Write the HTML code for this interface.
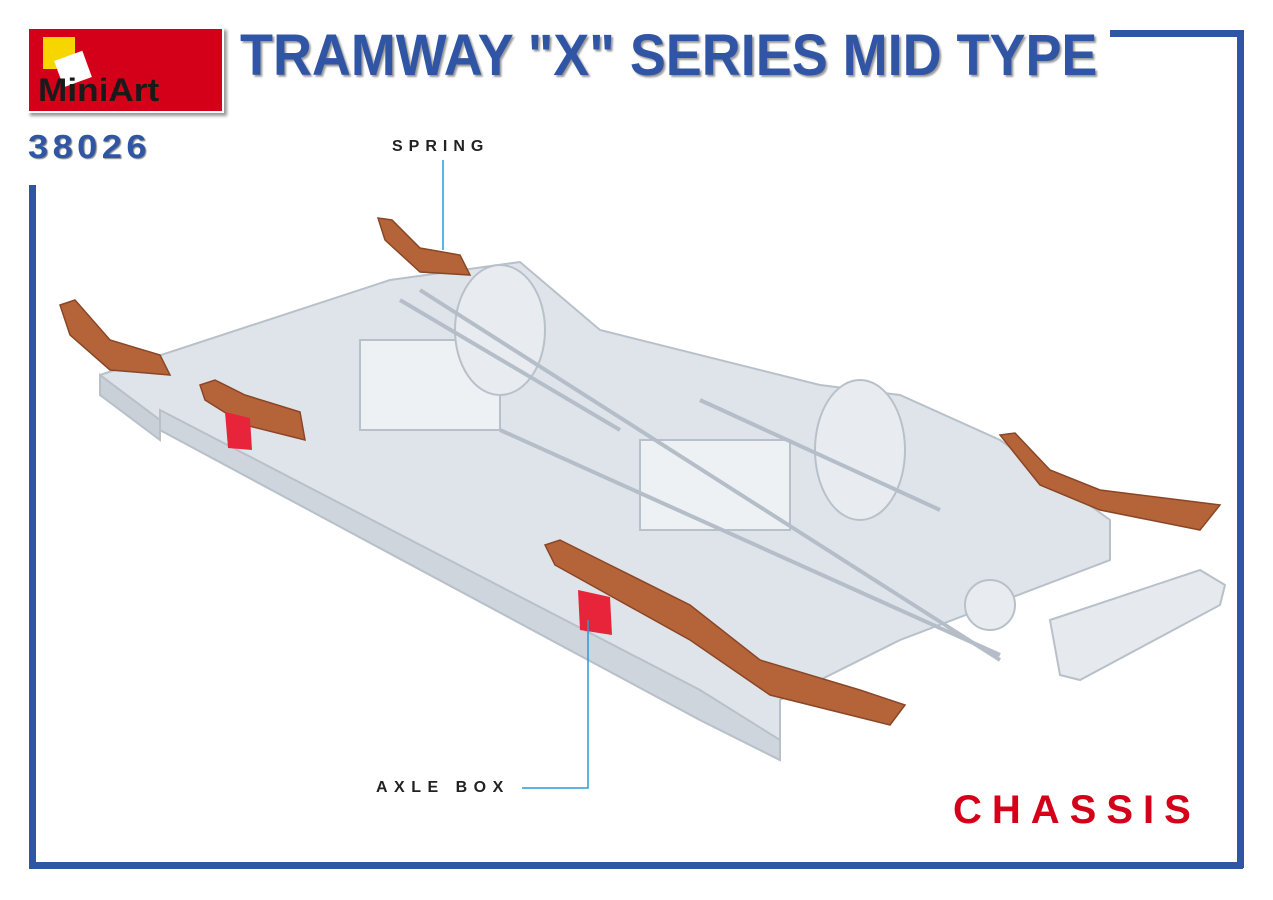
<!DOCTYPE html>
<html><head><style>
body{margin:0;width:1273px;height:900px;background:#fff;position:relative;overflow:hidden;font-family:"Liberation Sans",sans-serif}
.abs{position:absolute}
</style></head><body>
<div class="abs" style="left:29px;top:185px;width:7px;height:683px;background:#2f55a4"></div>
<div class="abs" style="left:29px;top:862px;width:1214px;height:7px;background:#2f55a4"></div>
<div class="abs" style="left:1237px;top:30px;width:7px;height:838px;background:#2f55a4"></div>
<div class="abs" style="left:1110px;top:30px;width:133px;height:7px;background:#2f55a4"></div>
<div class="abs" style="left:27px;top:27px;width:193px;height:82px;background:#d4001a;box-shadow:3px 3px 3px #999;border:2px solid #fff"></div>
<div class="abs" style="left:43px;top:37px;width:32px;height:32px;background:#f7d600"></div>
<div class="abs" style="left:58px;top:55px;width:30px;height:28px;background:#fff;transform:rotate(-20deg)"></div>
<div class="abs" style="left:38px;top:72px;font:bold 32px 'Liberation Sans',sans-serif;color:#1a1a1a;letter-spacing:0px;transform:scaleX(1.1);transform-origin:left">MiniArt</div>
<div class="abs" style="left:240px;top:22px;font:bold 58px 'Liberation Sans',sans-serif;color:#2f55a4;transform:scaleX(0.93);transform-origin:left;white-space:nowrap;text-shadow:2px 2px 2px #999">TRAMWAY "X" SERIES MID TYPE</div>
<div class="abs" style="left:28px;top:128px;font:bold 33px 'Liberation Sans',sans-serif;color:#2f55a4;letter-spacing:4px;transform:scaleX(1.1);transform-origin:left;text-shadow:1px 1px 1px #888">38026</div>
<div class="abs" style="left:392px;top:138px;font:bold 16px 'Liberation Sans',sans-serif;letter-spacing:6px;color:#222">SPRING</div>
<div class="abs" style="left:376px;top:779px;font:bold 16px 'Liberation Sans',sans-serif;letter-spacing:6.5px;color:#222">AXLE BOX</div>
<div class="abs" style="left:953px;top:788px;font:bold 40px 'Liberation Sans',sans-serif;letter-spacing:10px;color:#d4001a">CHASSIS</div>
<svg class="abs" style="left:0;top:0" width="1273" height="900">
<g fill="#dfe4ea" stroke="#b8c0c9" stroke-width="2">
<polygon points="100,375 390,280 520,262 600,330 820,385 900,395 1000,440 1110,520 1110,560 900,640 780,700 780,760 700,720 160,430 100,395"/>
<polygon points="100,375 160,420 160,440 100,395" fill="#c9d0d8"/>
<polygon points="160,430 700,720 780,760 780,740 700,690 160,410" fill="#cfd5dc"/>
<rect x="360" y="340" width="140" height="90" fill="#eef1f4"/>
<rect x="640" y="440" width="150" height="90" fill="#eef1f4"/>
<ellipse cx="500" cy="330" rx="45" ry="65" fill="#e8ecf0"/>
<ellipse cx="860" cy="450" rx="45" ry="70" fill="#e8ecf0"/>
<ellipse cx="990" cy="605" rx="25" ry="25" fill="#e8ecf0"/>
<polygon points="1050,620 1200,570 1225,585 1220,605 1080,680 1060,675" fill="#e6eaee"/>
</g>
<g stroke="#b5bec8" stroke-width="4" fill="none">
<line x1="420" y1="290" x2="1000" y2="660"/><line x1="500" y1="430" x2="1000" y2="655"/>
<line x1="400" y1="300" x2="620" y2="430"/><line x1="700" y1="400" x2="940" y2="510"/>
</g>
<g fill="#b5643a" stroke="#8a4626" stroke-width="1.5">
<polygon points="60,305 75,300 110,340 160,355 170,375 110,370 70,335"/>
<polygon points="378,218 392,220 420,248 460,255 470,275 420,272 385,240"/>
<polygon points="200,385 215,380 245,395 300,412 305,440 245,425 205,400"/>
<polygon points="1000,435 1015,433 1050,470 1100,490 1220,505 1200,530 1100,510 1040,485"/>
<polygon points="545,545 560,540 610,565 690,605 760,660 860,690 905,705 890,725 850,715 770,695 690,640 600,590 555,565"/>
</g>
<g fill="#e8243a"><polygon points="225,412 250,418 252,450 228,448"/><polygon points="578,590 610,597 612,635 580,630"/></g>
<g stroke="#2a9ad8" stroke-width="1.5" fill="none">
<polyline points="443,160 443,250"/><polyline points="522,788 588,788 588,620"/>
</g>
</svg>
</body></html>
